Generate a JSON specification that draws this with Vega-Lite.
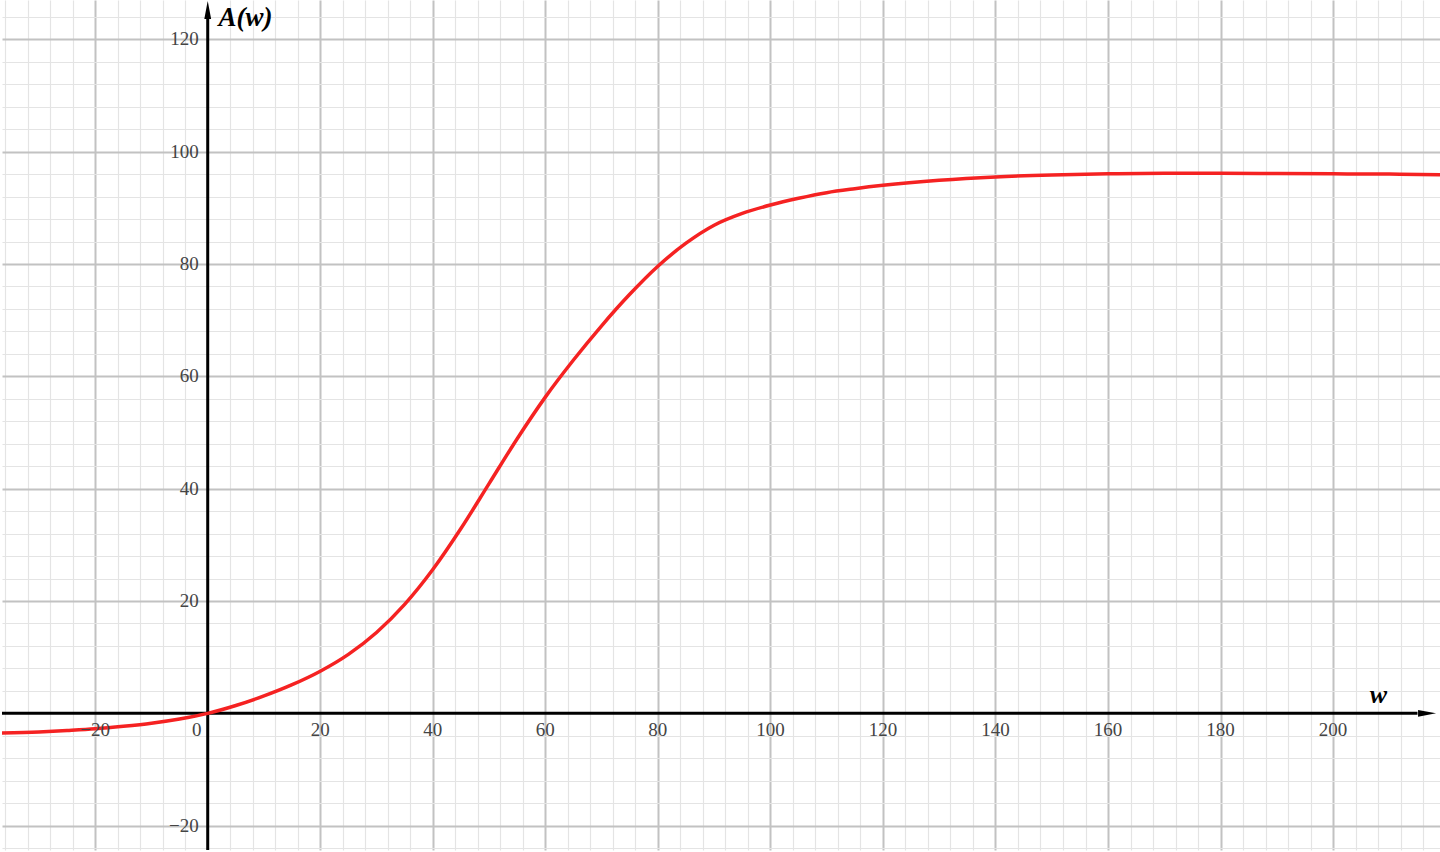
{
  "$schema": "https://vega.github.io/schema/vega-lite/v6.json",
  "width": 1440,
  "height": 852,
  "padding": 0,
  "autosize": {"type": "fit", "contains": "padding"},
  "background": "white",
  "datasets": {
    "curve": [
      {"w": -36.6, "A": -3.5},
      {"w": -30, "A": -3.3},
      {"w": -25, "A": -3.05},
      {"w": -20, "A": -2.75},
      {"w": -15, "A": -2.3},
      {"w": -10, "A": -1.75},
      {"w": -5, "A": -1.0},
      {"w": 0, "A": 0},
      {"w": 5, "A": 1.4},
      {"w": 10, "A": 3.1},
      {"w": 15, "A": 5.1},
      {"w": 20, "A": 7.5},
      {"w": 25, "A": 10.5},
      {"w": 30, "A": 14.4},
      {"w": 35, "A": 19.4},
      {"w": 40, "A": 25.6},
      {"w": 45, "A": 32.9},
      {"w": 50, "A": 40.9},
      {"w": 55, "A": 48.9},
      {"w": 60, "A": 56.3},
      {"w": 65, "A": 62.9},
      {"w": 70, "A": 69.0},
      {"w": 75, "A": 74.6},
      {"w": 80, "A": 79.6},
      {"w": 85, "A": 83.7},
      {"w": 90, "A": 86.9},
      {"w": 95, "A": 89.0},
      {"w": 100, "A": 90.5},
      {"w": 105, "A": 91.7},
      {"w": 110, "A": 92.7},
      {"w": 115, "A": 93.4},
      {"w": 120, "A": 94.0},
      {"w": 130, "A": 94.9},
      {"w": 140, "A": 95.5},
      {"w": 150, "A": 95.85},
      {"w": 160, "A": 96.05},
      {"w": 170, "A": 96.15},
      {"w": 180, "A": 96.15},
      {"w": 190, "A": 96.1},
      {"w": 200, "A": 96.05},
      {"w": 210, "A": 96.0},
      {"w": 219, "A": 95.9}
    ],
    "xlabels": [
      {"v": -20, "t": "−20"},
      {"v": 20, "t": "20"},
      {"v": 40, "t": "40"},
      {"v": 60, "t": "60"},
      {"v": 80, "t": "80"},
      {"v": 100, "t": "100"},
      {"v": 120, "t": "120"},
      {"v": 140, "t": "140"},
      {"v": 160, "t": "160"},
      {"v": 180, "t": "180"},
      {"v": 200, "t": "200"}
    ],
    "ylabels": [
      {"v": -20, "t": "−20"},
      {"v": 20, "t": "20"},
      {"v": 40, "t": "40"},
      {"v": 60, "t": "60"},
      {"v": 80, "t": "80"},
      {"v": 100, "t": "100"},
      {"v": 120, "t": "120"}
    ],
    "one": [{}]
  },
  "resolve": {"axis": {"x": "independent", "y": "independent"}},
  "layer": [
    {
      "data": {"name": "one"},
      "mark": {"type": "rule", "color": "black", "strokeWidth": 3},
      "encoding": {
        "x": {
          "datum": -36.56,
          "scale": {"domain": [-36.56, 219], "nice": false, "zero": false},
          "axis": {
            "grid": true,
            "gridColor": "#e4e4e4",
            "gridWidth": 1.2,
            "gridOpacity": 1,
            "values": [-36, -32, -28, -24, -16, -12, -8, -4, 4, 8, 12, 16, 24, 28, 32, 36, 44, 48, 52, 56, 64, 68, 72, 76, 84, 88, 92, 96, 104, 108, 112, 116, 124, 128, 132, 136, 144, 148, 152, 156, 164, 168, 172, 176, 184, 188, 192, 196, 204, 208, 212, 216]
          }
        },
        "x2": {"datum": 215},
        "y": {
          "datum": 0,
          "scale": {"domain": [-24.33, 127], "nice": false, "zero": false},
          "axis": {
            "grid": true,
            "gridColor": "#e4e4e4",
            "gridWidth": 1.2,
            "gridOpacity": 1,
            "values": [-24, -16, -12, -8, -4, 4, 8, 12, 16, 24, 28, 32, 36, 44, 48, 52, 56, 64, 68, 72, 76, 84, 88, 92, 96, 104, 108, 112, 116, 124]
          }
        }
      }
    },
    {
      "data": {"name": "one"},
      "mark": {"type": "rule", "color": "black", "strokeWidth": 3},
      "encoding": {
        "x": {
          "datum": 0,
          "axis": {
            "grid": true,
            "gridColor": "#c2c2c2",
            "gridWidth": 2,
            "gridOpacity": 1,
            "values": [-20, 20, 40, 60, 80, 100, 120, 140, 160, 180, 200]
          }
        },
        "y": {
          "datum": -24.33,
          "axis": {
            "grid": true,
            "gridColor": "#c2c2c2",
            "gridWidth": 2,
            "gridOpacity": 1,
            "values": [-20, 20, 40, 60, 80, 100, 120]
          }
        },
        "y2": {"datum": 124}
      }
    },
    {
      "data": {"name": "one"},
      "mark": {"type": "point", "shape": "M0,-1L0.38,1L-0.38,1Z", "filled": true, "color": "black", "opacity": 1, "size": 324},
      "encoding": {
        "x": {"datum": 0, "axis": null},
        "y": {"datum": 125.2, "axis": null}
      }
    },
    {
      "data": {"name": "one"},
      "mark": {"type": "point", "shape": "M1,0L-1,-0.38L-1,0.38Z", "filled": true, "color": "black", "opacity": 1, "size": 324},
      "encoding": {
        "x": {"datum": 216.7, "axis": null},
        "y": {"datum": 0, "axis": null}
      }
    },
    {
      "data": {"name": "curve"},
      "mark": {"type": "line", "color": "#f52222", "strokeWidth": 3.5, "interpolate": "monotone", "clip": true},
      "encoding": {
        "x": {"field": "w", "type": "quantitative", "axis": null},
        "y": {"field": "A", "type": "quantitative", "axis": null}
      }
    },
    {
      "data": {"name": "xlabels"},
      "mark": {"type": "text", "font": "Liberation Serif", "fontSize": 19, "color": "#444444", "align": "center", "baseline": "middle", "dy": 17},
      "encoding": {
        "x": {"field": "v", "type": "quantitative", "axis": null},
        "y": {"datum": 0, "axis": null},
        "text": {"field": "t"}
      }
    },
    {
      "data": {"name": "one"},
      "mark": {"type": "text", "font": "Liberation Serif", "fontSize": 19, "color": "#444444", "align": "center", "baseline": "middle", "dx": -11, "dy": 17},
      "encoding": {
        "x": {"datum": 0, "axis": null},
        "y": {"datum": 0, "axis": null},
        "text": {"value": "0"}
      }
    },
    {
      "data": {"name": "ylabels"},
      "mark": {"type": "text", "font": "Liberation Serif", "fontSize": 19, "color": "#444444", "align": "right", "baseline": "middle", "dx": -9},
      "encoding": {
        "x": {"datum": 0, "axis": null},
        "y": {"field": "v", "type": "quantitative", "axis": null},
        "text": {"field": "t"}
      }
    },
    {
      "data": {"name": "one"},
      "mark": {"type": "text", "font": "Liberation Serif", "fontSize": 27, "fontWeight": "bold", "fontStyle": "italic", "color": "black", "align": "left", "baseline": "middle"},
      "encoding": {
        "x": {"datum": 1.9, "axis": null},
        "y": {"datum": 123.8, "axis": null},
        "text": {"value": "A(w)"}
      }
    },
    {
      "data": {"name": "one"},
      "mark": {"type": "text", "font": "Liberation Serif", "fontSize": 26, "fontWeight": "bold", "fontStyle": "italic", "color": "black", "align": "left", "baseline": "middle"},
      "encoding": {
        "x": {"datum": 206.5, "axis": null},
        "y": {"datum": 3.3, "axis": null},
        "text": {"value": "w"}
      }
    }
  ],
  "config": {
    "view": {"stroke": null},
    "axis": {"domain": false, "ticks": false, "labels": false}
  }
}
